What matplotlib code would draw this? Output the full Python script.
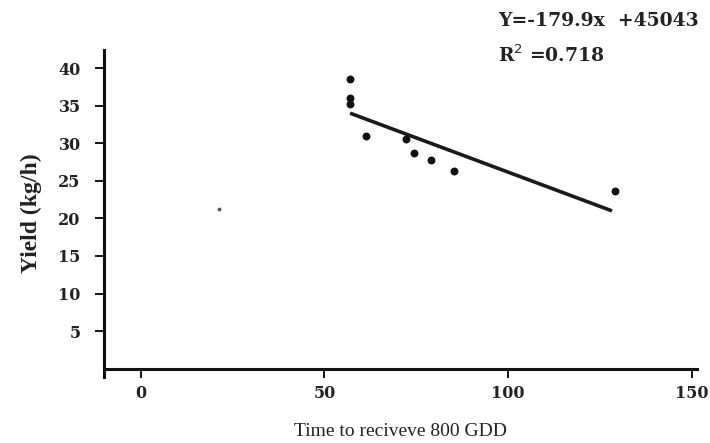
import matplotlib.pyplot as plt

plt.rcParams['font.family'] = 'Liberation Serif'

# observed points
days = [57, 57, 57, 61.3, 72.2, 74.4, 79, 85.3, 129.2]
yield_kg = [38.6, 36.0, 35.2, 31.0, 30.5, 28.7, 27.8, 26.3, 23.6]

# stray speck
speck_x = [21.3]
speck_y = [21.3]

# fitted trend
fit_x = [57, 128.3]
fit_y = [34.0, 21.0]

xticks = [0, 50, 100, 150]
yticks = [5, 10, 15, 20, 25, 30, 35, 40]

fig = plt.figure(figsize=(7.1, 4.43), dpi=100)
ax = fig.add_axes([0.146, 0.149, 0.836, 0.738])

ax.plot(fit_x, fit_y, color='#1a1a1a', lw=2.6, solid_capstyle='butt')
ax.scatter(days, yield_kg, s=22, color='#111111', zorder=3)
ax.scatter(speck_x, speck_y, s=3, color='#555555', zorder=3)

ax.set_xlim(-10.1, 151.5)
ax.set_ylim(-1.1, 42.4)
ax.spines['bottom'].set_position(('data', 0))
ax.spines['top'].set_visible(False)
ax.spines['right'].set_visible(False)
for s in ('left', 'bottom'):
    ax.spines[s].set_linewidth(2.2)
    ax.spines[s].set_color('#111111')

ax.set_xticks(xticks)
ax.set_yticks(yticks)
ax.tick_params(axis='both', direction='out', length=6.5, width=1.4, color='#111111',
               labelsize=11.5)
ax.tick_params(axis='x', pad=5)
ax.tick_params(axis='y', pad=10)
for lab in ax.get_xticklabels() + ax.get_yticklabels():
    lab.set_fontweight('bold')
    lab.set_family('DejaVu Serif')
    lab.set_color('#222222')

ax.set_xlabel('Time to reciveve 800 GDD', fontsize=14, labelpad=15, color='#222222')
ax.set_ylabel('Yield (kg/h)', fontsize=17, fontweight='bold', labelpad=12, color='#222222')

fig.text(0.702, 0.942, 'Y=-179.9x  +45043', fontsize=13.5, fontweight='bold',
         color='#222222', family='DejaVu Serif')
fig.text(0.702, 0.86, 'R$^{2}$ =0.718', fontsize=13.5, fontweight='bold',
         color='#222222', family='DejaVu Serif')

fig.savefig('out.png', dpi=100)
